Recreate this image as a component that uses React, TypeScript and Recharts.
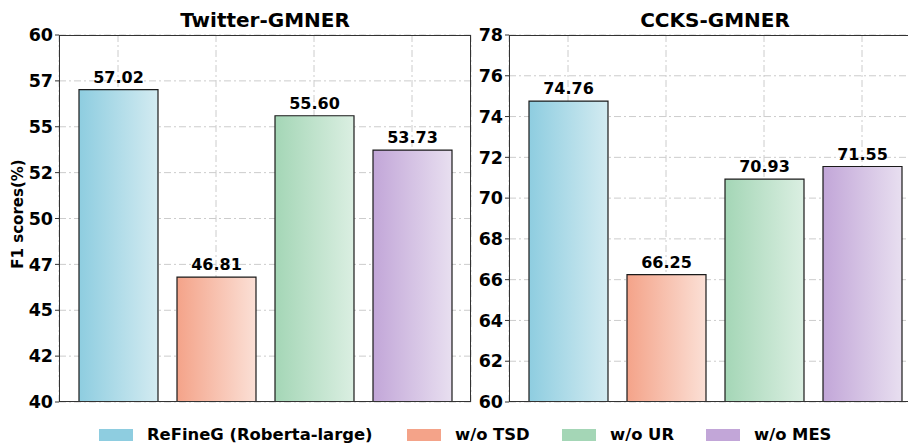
import React from 'react';
import { BarChart, Bar, XAxis, YAxis, CartesianGrid, LabelList, Cell } from 'recharts';

const categories = ['ReFineG (Roberta-large)', 'w/o TSD', 'w/o UR', 'w/o MES'];
const twitterScores = [57.02, 46.81, 55.6, 53.73];
const ccksScores = [74.76, 66.25, 70.93, 71.55];
const twitterTicks = [40, 42.5, 45, 47.5, 50, 52.5, 55, 57.5, 60];
const ccksTicks = [60, 62, 64, 66, 68, 70, 72, 74, 76, 78];

const baseColors = ['#8ecde0', '#f4a389', '#a4d6b6', '#c2a6d8'];
const lightColors = ['#d3ebf1', '#fbe0d6', '#dbefe2', '#e8dff0'];

const FONT = '"DejaVu Sans", sans-serif';
const SPINE = '#333333';

const legendLeft = [99, 407, 562, 706];

interface PanelProps {
  id: string;
  title: string;
  scores: number[];
  ticks: number[];
  left: number;
}

const Panel: React.FC<PanelProps> = ({ id, title, scores, ticks, left }) => {
  const data = categories.map((name, i) => ({ name, value: scores[i] }));
  const domain = [ticks[0], ticks[ticks.length - 1]];

  return (
    <div style={{ position: 'absolute', left, top: 0, width: 480, height: 420 }}>
      <div
        style={{
          position: 'absolute',
          left: 59,
          width: 412,
          top: 9,
          lineHeight: '22px',
          textAlign: 'center',
          fontFamily: FONT,
          fontWeight: 'bold',
          fontSize: 20,
          color: '#000',
        }}
      >
        {title}
      </div>
      <BarChart width={480} height={420} data={data} margin={{ top: 35, right: 9, bottom: 18, left: 0 }}>
        <defs>
          {baseColors.map((c, i) => (
            <linearGradient key={i} id={`${id}-g${i}`} x1="0" y1="0" x2="1" y2="0">
              <stop offset="0%" stopColor={c} />
              <stop offset="100%" stopColor={lightColors[i]} />
            </linearGradient>
          ))}
        </defs>
        <XAxis
          dataKey="name"
          height={0}
          interval={0}
          tick={() => <g />}
          tickLine={false}
          axisLine={false}
          padding={{ left: 10, right: 10 }}
        />
        <YAxis
          width={59}
          domain={domain}
          ticks={ticks}
          interval={0}
          type="number"
          allowDataOverflow
          tickFormatter={(v: number) => `${Math.floor(v)}`}
          tick={{ fontFamily: FONT, fontWeight: 'bold', fontSize: 17.5, fill: '#000' }}
          tickSize={4}
          tickLine={{ stroke: SPINE }}
          axisLine={false}
        />
        <Bar dataKey="value" barSize={79} stroke="#1a1a1a" strokeWidth={1.2} isAnimationActive={false}>
          {data.map((d, i) => (
            <Cell key={i} fill={`url(#${id}-g${i})`} />
          ))}
          <LabelList
            dataKey="value"
            position="top"
            offset={7}
            formatter={(v: number) => v.toFixed(2)}
            style={{ fontFamily: FONT, fontWeight: 'bold', fontSize: 16, fill: '#000' }}
          />
        </Bar>
        <CartesianGrid stroke="#cccccc" strokeDasharray="7 3 2 3" strokeWidth={1} />
      </BarChart>
      <div
        style={{
          position: 'absolute',
          left: 59,
          top: 35,
          width: 412,
          height: 367,
          boxSizing: 'border-box',
          border: `1.2px solid ${SPINE}`,
          pointerEvents: 'none',
        }}
      />
    </div>
  );
};

export default function App() {
  return (
    <div
      style={{
        position: 'absolute',
        left: 0,
        top: 0,
        width: 908,
        height: 443,
        overflow: 'hidden',
        background: '#fff',
      }}
    >
      <Panel id="tw" title="Twitter-GMNER" scores={twitterScores} ticks={twitterTicks} left={0} />
      <Panel id="ck" title="CCKS-GMNER" scores={ccksScores} ticks={ccksTicks} left={450} />
      <div
        style={{
          position: 'absolute',
          left: 18,
          top: 214,
          transform: 'translate(-50%, -50%) rotate(-90deg)',
          fontFamily: FONT,
          fontWeight: 'bold',
          fontSize: 15,
          whiteSpace: 'nowrap',
          color: '#000',
        }}
      >
        F1 scores(%)
      </div>
      {categories.map((name, i) => (
        <div
          key={name}
          style={{
            position: 'absolute',
            left: legendLeft[i],
            top: 426,
            height: 17,
            lineHeight: '17px',
            display: 'flex',
            alignItems: 'center',
            fontFamily: FONT,
            fontWeight: 'bold',
            fontSize: 16.4,
            whiteSpace: 'nowrap',
            color: '#000',
          }}
        >
          <span style={{ display: 'inline-block', width: 34, height: 12, background: baseColors[i], marginRight: 14 }} />
          {name}
        </div>
      ))}
    </div>
  );
}
